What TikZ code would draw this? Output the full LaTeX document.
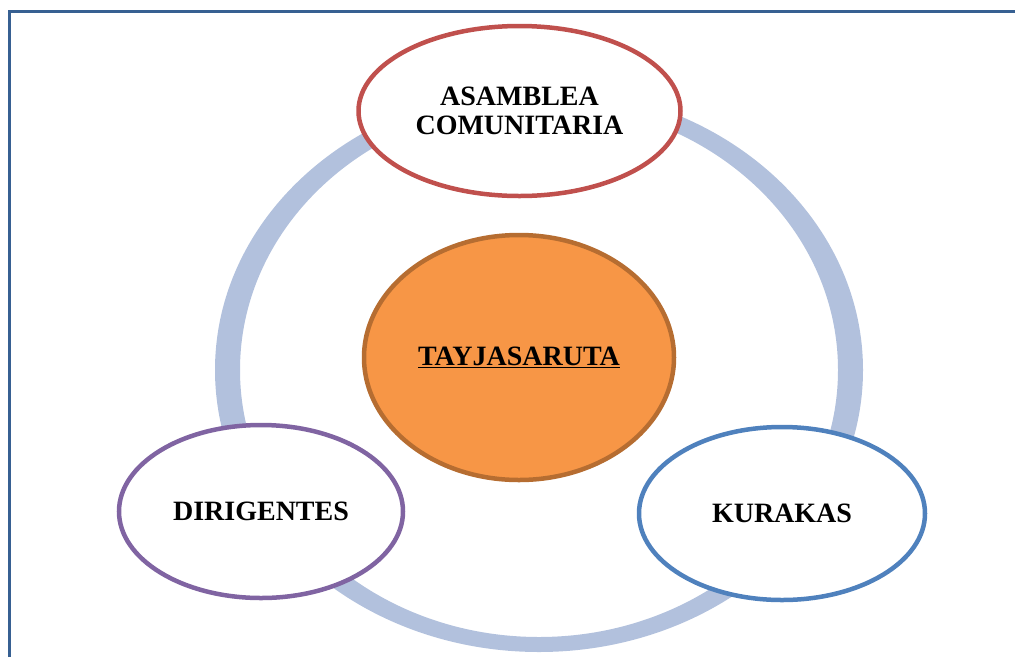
\documentclass[tikz,border=0pt]{standalone}
\usepackage{fontspec}
\setmainfont{Liberation Serif}
\usetikzlibrary{shapes.geometric}

\definecolor{framecol}{HTML}{376092}
\definecolor{ringcol}{HTML}{B2C1DD}
\definecolor{asamcol}{HTML}{C0504D}
\definecolor{tayfill}{HTML}{F79646}
\definecolor{taydraw}{HTML}{B66D31}
\definecolor{dircol}{HTML}{8064A2}
\definecolor{kurcol}{HTML}{4F81BD}

\begin{document}
\begin{tikzpicture}[
    x = 1pt,
    y = -1pt,
    oval/.style = {
        ellipse,
        inner sep = 0pt,
        line width = 4.5pt,
        fill = white,
        align = center,
        font = \fontsize{28}{29}\selectfont\bfseries
    },
    ring/.style = {
        fill = ringcol,
        even odd rule
    }
]
    \useasboundingbox (0,0) rectangle (1015,657);

    % Frame
    \draw [framecol, line width = 3.5pt] (9.5,657) -- (9.5,11.5) -- (1015,11.5);

    % Ring
    \coordinate (hub) at (539,370);
    \fill [ring] (hub) ellipse [x radius = 324pt, y radius = 282pt]
                 (hub) ellipse [x radius = 299pt, y radius = 267pt];

    % Nodes
    \node [oval, draw = asamcol, minimum width = 322pt, minimum height = 170pt]
        (asamblea) at (519.5,111) {ASAMBLEA\\COMUNITARIA};
    \node [oval, draw = taydraw, fill = tayfill, minimum width = 310pt, minimum height = 245pt]
        (tayja) at (519,357.5) {\underline{TAYJASARUTA}};
    \node [oval, draw = dircol, minimum width = 284pt, minimum height = 173pt]
        (dirig) at (261,511.5) {DIRIGENTES};
    \node [oval, draw = kurcol, minimum width = 286pt, minimum height = 173pt]
        (kurakas) at (782,513.5) {KURAKAS};

\end{tikzpicture}
\end{document}
